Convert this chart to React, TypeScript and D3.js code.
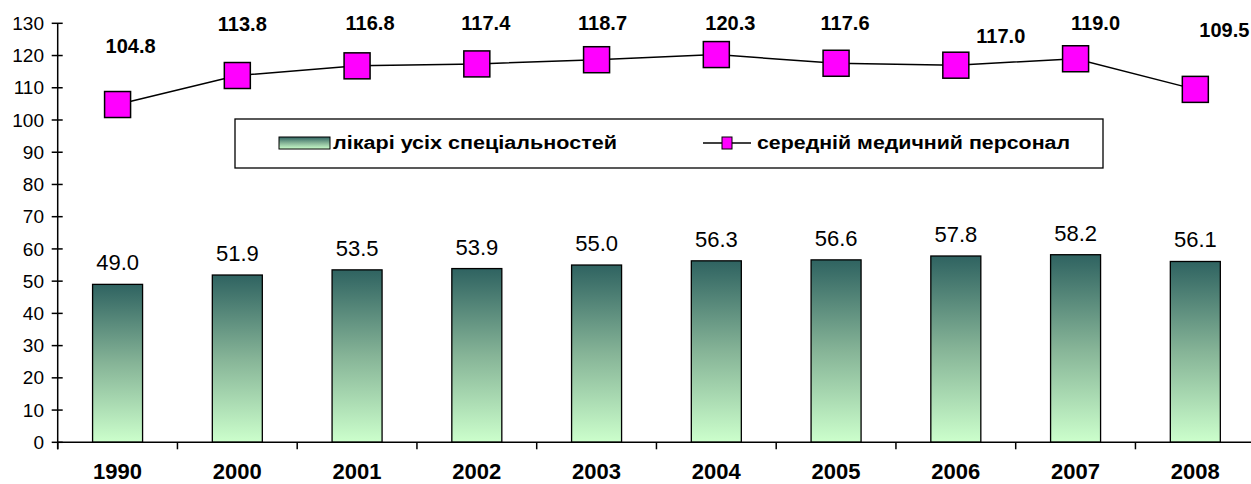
import React from "react";
import * as d3 from "d3";

const categories = ["1990", "2000", "2001", "2002", "2003", "2004", "2005", "2006", "2007", "2008"];
const doctors = [49.0, 51.9, 53.5, 53.9, 55.0, 56.3, 56.6, 57.8, 58.2, 56.1];
const nurses = [104.8, 113.8, 116.8, 117.4, 118.7, 120.3, 117.6, 117.0, 119.0, 109.5];
const yTicks = [0, 10, 20, 30, 40, 50, 60, 70, 80, 90, 100, 110, 120, 130];
const legendLabels = ["лікарі усіх спеціальностей", "середній медичний персонал"];

// manual label placement offsets (layout, relative to marker centre)
const lineLabelOffsets: [number, number][] = [
  [13, -52], [5, -45], [13, -36], [9, -34], [6, -30],
  [14, -25], [9, -33], [45, -22], [20, -29], [29, -52],
];

const W = 1251;
const H = 484;
const FONT = "Arial, 'Liberation Sans', sans-serif";

export default function App() {
  const x0 = 57.7;
  const band = 119.75;
  const x = d3.scaleBand<string>().domain(categories).range([x0, x0 + band * categories.length]).padding(0);
  const y = d3.scaleLinear().domain([0, 130]).range([442.3, 23.3]);
  const barW = 50;
  const cx = (c: string) => (x(c) as number) + x.bandwidth() / 2;

  const line = d3
    .line<number>()
    .x((_, i) => cx(categories[i]))
    .y((d) => y(d));

  const boundaries = d3.range(categories.length + 1).map((i) => x0 + i * x.bandwidth());
  const M = 26;

  return (
    <svg width={W} height={H} style={{ position: "absolute", left: 0, top: 0, background: "#fff" }} fontFamily={FONT}>
      <defs>
        <linearGradient id="barGrad" x1="0" y1="0" x2="0" y2="1">
          <stop offset="0%" stopColor="#2f6361" />
          <stop offset="50%" stopColor="#86b497" />
          <stop offset="100%" stopColor="#ccffcc" />
        </linearGradient>
      </defs>

      {/* bars */}
      {categories.map((c, i) => (
        <g key={"b" + c}>
          <rect
            x={cx(c) - barW / 2}
            y={y(doctors[i])}
            width={barW}
            height={y(0) - y(doctors[i])}
            fill="url(#barGrad)"
            stroke="#000"
            strokeWidth={1.3}
          />
          <text x={cx(c)} y={y(doctors[i]) - 14} textAnchor="middle" fontSize={22} fill="#000">
            {doctors[i].toFixed(1)}
          </text>
        </g>
      ))}

      {/* y axis */}
      <line x1={x0} x2={x0} y1={y(130)} y2={y(0) + 7} stroke="#000" strokeWidth={1.5} />
      {yTicks.map((t) => (
        <g key={"y" + t}>
          <line x1={x0 - 6} x2={x0 + 5} y1={y(t)} y2={y(t)} stroke="#000" strokeWidth={1.5} />
          <text x={44} y={y(t)} dy="0.35em" textAnchor="end" fontSize={19} fill="#000">
            {t}
          </text>
        </g>
      ))}

      {/* x axis */}
      <line x1={x0} x2={W} y1={y(0)} y2={y(0)} stroke="#000" strokeWidth={1.5} />
      {boundaries.map((b, i) => (
        <line key={"xt" + i} x1={b} x2={b} y1={y(0)} y2={y(0) + 7} stroke="#000" strokeWidth={1.5} />
      ))}
      {categories.map((c) => (
        <text key={"xl" + c} x={cx(c)} y={479} textAnchor="middle" fontSize={22} fontWeight="bold" fill="#000">
          {c}
        </text>
      ))}

      {/* line series */}
      <path d={line(nurses) || ""} fill="none" stroke="#000" strokeWidth={1.5} />
      {categories.map((c, i) => (
        <g key={"m" + c}>
          <rect x={cx(c) - M / 2} y={y(nurses[i]) - M / 2} width={M} height={M} fill="#ff00ff" stroke="#000" strokeWidth={1.5} />
          <text
            x={cx(c) + lineLabelOffsets[i][0]}
            y={y(nurses[i]) + lineLabelOffsets[i][1]}
            textAnchor="middle"
            fontSize={20}
            fontWeight="bold"
            fill="#000"
          >
            {nurses[i].toFixed(1)}
          </text>
        </g>
      ))}

      {/* legend */}
      <rect x={235} y={119} width={868} height={49} fill="#fff" stroke="#000" strokeWidth={1.3} />
      <rect x={279} y={137} width={51} height={12} fill="url(#barGrad)" stroke="#000" strokeWidth={1} />
      <text x={333} y={143} dy="0.35em" fontSize={18} fontWeight="bold" fill="#000" textLength={284} lengthAdjust="spacingAndGlyphs">
        {legendLabels[0]}
      </text>
      <line x1={703} x2={751} y1={143} y2={143} stroke="#000" strokeWidth={1.5} />
      <rect x={722} y={137} width={10} height={12} fill="#ff00ff" stroke="#000" strokeWidth={1} />
      <text x={757} y={143} dy="0.35em" fontSize={18} fontWeight="bold" fill="#000" textLength={313} lengthAdjust="spacingAndGlyphs">
        {legendLabels[1]}
      </text>
    </svg>
  );
}
